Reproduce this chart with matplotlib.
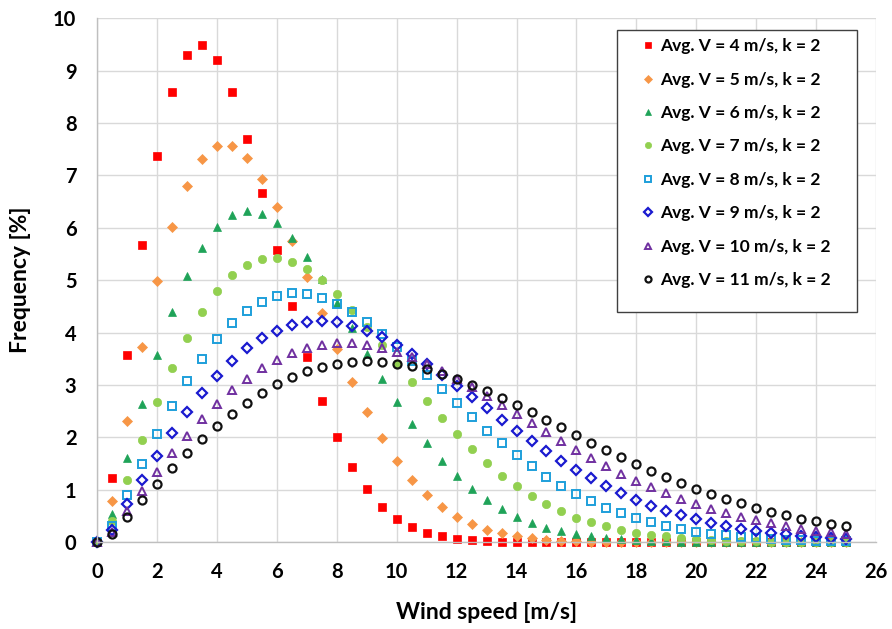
import numpy as np
import matplotlib
matplotlib.use("Agg")
import matplotlib.pyplot as plt
from matplotlib.patches import Rectangle

wind_speed = [i * 0.5 for i in range(51)]

freq_v4 = [0.00, 1.22, 3.57, 5.67, 7.37, 8.59, 9.29, 9.48, 9.21, 8.59, 7.70, 6.66, 5.57, 4.51, 3.54, 2.70,
           2.00, 1.44, 1.01, 0.68, 0.45, 0.29, 0.18, 0.11, 0.07, 0.04, 0.02, 0.01, 0.01, 0.00, 0.00, 0.00,
           0.00, 0.00, 0.00, 0.00, 0.00, 0.00, 0.00, 0.00, 0.00, 0.00, 0.00, 0.00, 0.00, 0.00, 0.00, 0.00,
           0.00, 0.00, 0.00]
freq_v5 = [0.00, 0.78, 2.31, 3.73, 4.98, 6.02, 6.80, 7.32, 7.56, 7.56, 7.34, 6.93, 6.39, 5.75, 5.07, 4.37,
           3.69, 3.06, 2.48, 1.98, 1.55, 1.19, 0.90, 0.67, 0.48, 0.35, 0.24, 0.17, 0.11, 0.08, 0.05, 0.03,
           0.02, 0.01, 0.01, 0.00, 0.00, 0.00, 0.00, 0.00, 0.00, 0.00, 0.00, 0.00, 0.00, 0.00, 0.00, 0.00,
           0.00, 0.00, 0.00]
freq_v6 = [0.00, 0.54, 1.61, 2.63, 3.57, 4.39, 5.08, 5.62, 6.01, 6.25, 6.33, 6.27, 6.09, 5.81, 5.45, 5.02,
           4.56, 4.08, 3.59, 3.12, 2.67, 2.26, 1.89, 1.55, 1.26, 1.01, 0.80, 0.63, 0.49, 0.37, 0.28, 0.21,
           0.15, 0.11, 0.08, 0.06, 0.04, 0.03, 0.02, 0.01, 0.01, 0.01, 0.00, 0.00, 0.00, 0.00, 0.00, 0.00,
           0.00, 0.00, 0.00]
freq_v7 = [0.00, 0.40, 1.19, 1.95, 2.67, 3.32, 3.90, 4.39, 4.79, 5.10, 5.30, 5.41, 5.42, 5.35, 5.21, 5.00,
           4.74, 4.44, 4.11, 3.76, 3.41, 3.05, 2.70, 2.37, 2.06, 1.77, 1.51, 1.27, 1.07, 0.88, 0.72, 0.59,
           0.47, 0.38, 0.30, 0.24, 0.18, 0.14, 0.11, 0.08, 0.06, 0.05, 0.03, 0.02, 0.02, 0.01, 0.01, 0.01,
           0.00, 0.00, 0.00]
freq_v8 = [0.00, 0.31, 0.91, 1.50, 2.07, 2.59, 3.07, 3.50, 3.87, 4.18, 4.42, 4.59, 4.70, 4.75, 4.73, 4.67,
           4.55, 4.39, 4.20, 3.97, 3.73, 3.46, 3.19, 2.92, 2.65, 2.38, 2.13, 1.89, 1.66, 1.45, 1.25, 1.08,
           0.92, 0.78, 0.66, 0.55, 0.46, 0.38, 0.31, 0.25, 0.20, 0.16, 0.13, 0.10, 0.08, 0.06, 0.05, 0.04,
           0.03, 0.02, 0.02]
freq_v9 = [0.00, 0.24, 0.72, 1.19, 1.65, 2.08, 2.48, 2.84, 3.17, 3.46, 3.70, 3.89, 4.04, 4.15, 4.21, 4.22,
           4.20, 4.13, 4.04, 3.91, 3.76, 3.59, 3.40, 3.20, 2.99, 2.77, 2.56, 2.34, 2.13, 1.93, 1.74, 1.55,
           1.38, 1.22, 1.07, 0.93, 0.81, 0.70, 0.60, 0.51, 0.44, 0.37, 0.31, 0.26, 0.22, 0.18, 0.15, 0.12,
           0.10, 0.08, 0.06]
freq_v10 = [0.00, 0.20, 0.59, 0.97, 1.34, 1.70, 2.03, 2.35, 2.64, 2.90, 3.12, 3.32, 3.48, 3.61, 3.71, 3.77,
            3.80, 3.80, 3.77, 3.71, 3.63, 3.53, 3.41, 3.27, 3.12, 2.96, 2.79, 2.62, 2.45, 2.27, 2.10, 1.93,
            1.76, 1.60, 1.45, 1.31, 1.17, 1.05, 0.93, 0.82, 0.73, 0.64, 0.55, 0.48, 0.42, 0.36, 0.31, 0.26,
            0.22, 0.19, 0.16]
freq_v11 = [0.00, 0.16, 0.48, 0.80, 1.11, 1.41, 1.70, 1.97, 2.22, 2.45, 2.66, 2.85, 3.01, 3.15, 3.26, 3.34,
            3.41, 3.44, 3.45, 3.44, 3.41, 3.36, 3.30, 3.21, 3.11, 3.00, 2.88, 2.75, 2.62, 2.48, 2.33, 2.19,
            2.04, 1.90, 1.76, 1.62, 1.49, 1.36, 1.24, 1.13, 1.02, 0.92, 0.82, 0.74, 0.66, 0.58, 0.51, 0.45,
            0.40, 0.35, 0.30]

labels = ["Avg. V = 4 m/s, k = 2", "Avg. V = 5 m/s, k = 2", "Avg. V = 6 m/s, k = 2",
          "Avg. V = 7 m/s, k = 2", "Avg. V = 8 m/s, k = 2", "Avg. V = 9 m/s, k = 2",
          "Avg. V = 10 m/s, k = 2", "Avg. V = 11 m/s, k = 2"]
series = [freq_v4, freq_v5, freq_v6, freq_v7, freq_v8, freq_v9, freq_v10, freq_v11]

styles = [
    dict(marker="s", color="#FF0000", mfc="#FF0000", ms=5.2, mew=0.5),
    dict(marker="D", color="#F79646", mfc="#F79646", ms=5.6, mew=0.5),
    dict(marker="^", color="#1FA358", mfc="#1FA358", ms=5.2, mew=0.5),
    dict(marker="o", color="#92D050", mfc="#92D050", ms=6.0, mew=0.5),
    dict(marker="s", color="#1E9FDB", mfc="none", ms=5.6, mew=1.4),
    dict(marker="D", color="#1A1ACF", mfc="none", ms=5.0, mew=1.6),
    dict(marker="^", color="#7030A0", mfc="none", ms=6.4, mew=1.4),
    dict(marker="o", color="#111111", mfc="none", ms=5.8, mew=1.6),
]

plt.rcParams['font.family'] = ['Lato', 'DejaVu Sans']

fig = plt.figure(figsize=(8.92, 6.29), dpi=100)
ax = fig.add_axes([0.109, 0.138, 0.873, 0.833])

for y, lab, st in zip(series, labels, styles):
    ax.plot(wind_speed, y, linestyle="none", label=lab, marker=st["marker"],
            markeredgecolor=st["color"], markerfacecolor=st["mfc"],
            markersize=st["ms"], markeredgewidth=st["mew"], clip_on=False)

ax.set_xlim(0, 26)
ax.set_ylim(0, 10)
ax.set_xticks(range(0, 27, 2))
ax.set_yticks(range(0, 11, 1))
ax.grid(True, color="#D9D9D9", linewidth=1.0)
ax.set_axisbelow(True)
for s in ["top", "right"]:
    ax.spines[s].set_visible(False)
for s in ["left", "bottom"]:
    ax.spines[s].set_color("#BFBFBF")
    ax.spines[s].set_linewidth(1.0)
ax.tick_params(length=0, labelsize=14.5)
ax.tick_params(axis="x", pad=14)
ax.tick_params(axis="y", pad=15)
for t in ax.get_xticklabels() + ax.get_yticklabels():
    t.set_fontweight("bold")

ax.set_xlabel("Wind speed [m/s]", fontsize=16.5, fontweight="bold", labelpad=15)
ax.set_ylabel("Frequency [%]", fontsize=16.5, fontweight="bold", labelpad=16)

# legend box (frame drawn separately so padding can differ horizontally/vertically)
box = Rectangle((0.6675, 0.4393), 0.9757 - 0.6675, 0.9775 - 0.4393, transform=ax.transAxes,
                facecolor="white", edgecolor="#404040", linewidth=1.0, zorder=4, clip_on=False)
ax.add_patch(box)
leg = ax.legend(loc="upper left", bbox_to_anchor=(0.6983, 0.9615), frameon=False,
                prop=dict(size=12.5, weight="bold"), labelspacing=1.0, handlelength=0.8,
                handletextpad=0.3, borderpad=0, markerscale=0.75, borderaxespad=0)
leg.set_zorder(5)

fig.savefig("out.png", dpi=100)
